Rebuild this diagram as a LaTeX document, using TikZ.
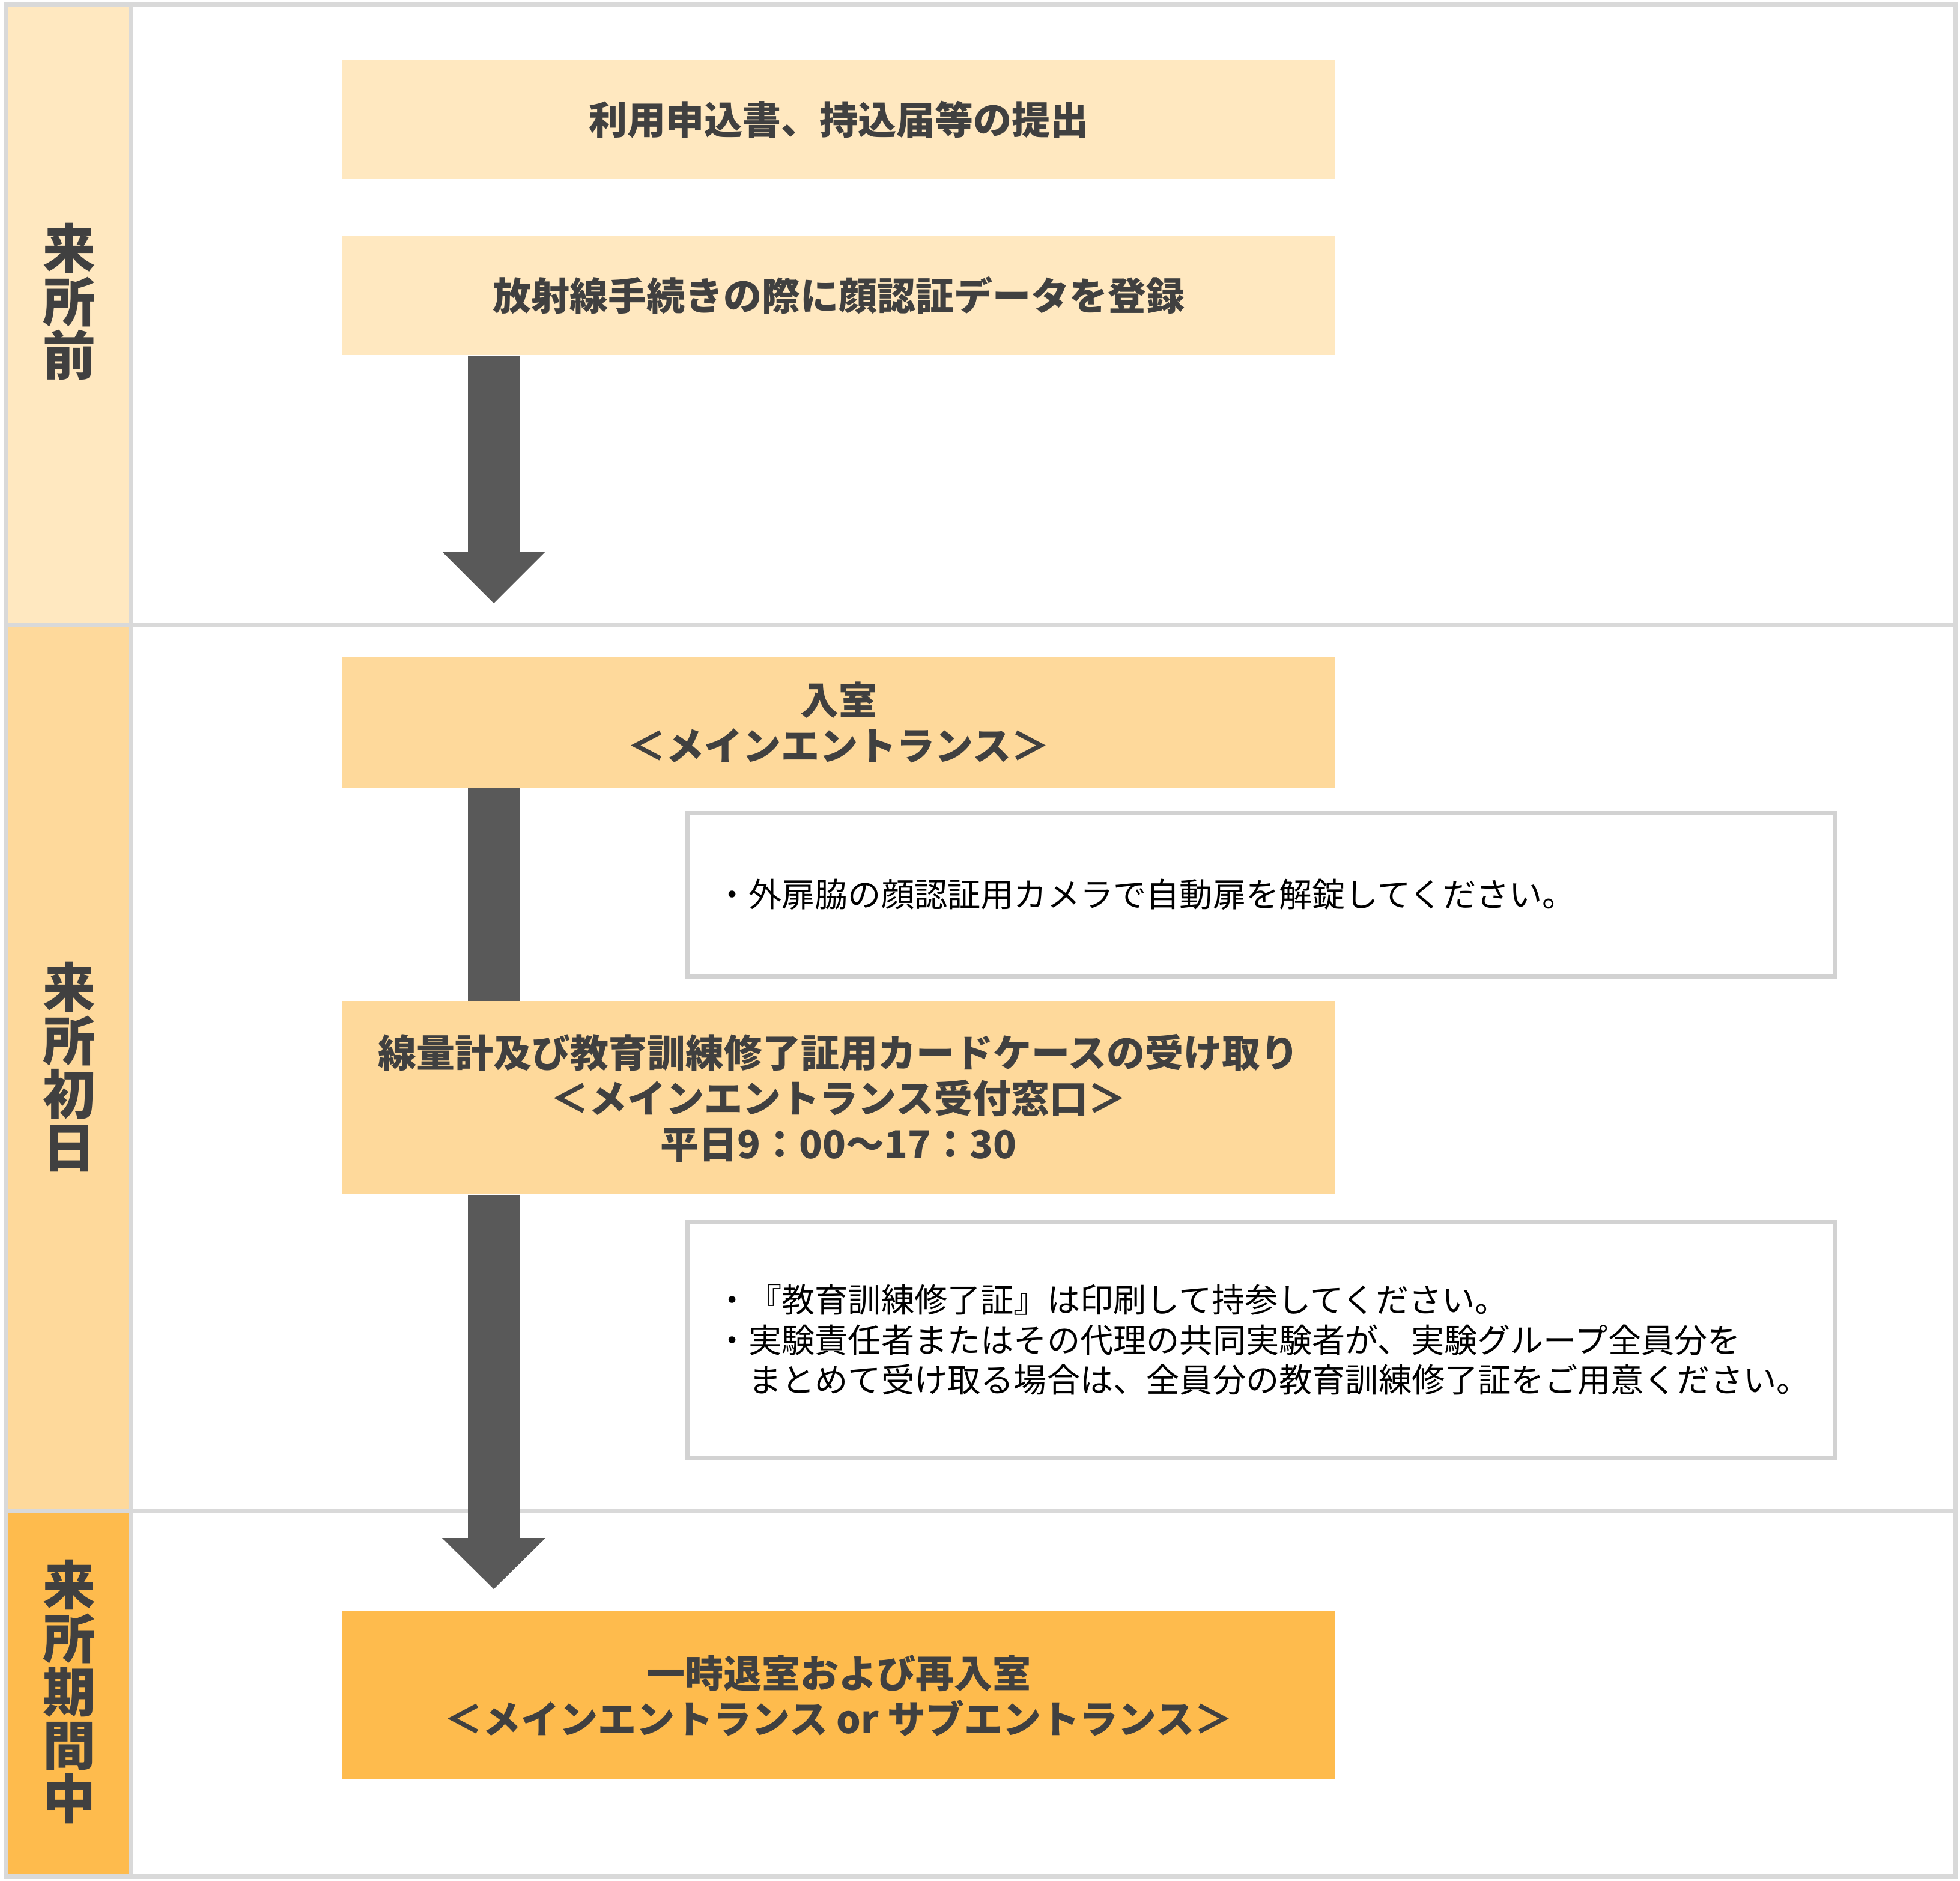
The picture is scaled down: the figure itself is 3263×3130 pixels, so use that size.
\documentclass[tikz,border=0pt]{standalone}
\usepackage{fontspec}
\setmainfont{Noto Sans CJK JP}
\usetikzlibrary{calc}
\definecolor{cpre}{HTML}{FFE8C0}
\definecolor{cday}{HTML}{FED99B}
\definecolor{cstay}{HTML}{FEBB4D}
\definecolor{gridc}{HTML}{D9D9D9}
\definecolor{notec}{HTML}{D2D2D2}
\definecolor{arrc}{HTML}{595959}
\definecolor{txtc}{HTML}{404040}
\begin{document}
\begin{tikzpicture}[x=0.25pt,y=-0.25pt,
  gridline/.style={draw=gridc,line width=1.75pt},
  stepbox/.style={inner sep=0pt,minimum width=413pt,align=center,text=txtc,
    font=\fontsize{16}{19}\selectfont\bfseries},
  notebox/.style={draw=notec,fill=white,line width=1.75pt,minimum width=477.75pt,
    inner xsep=11.6pt,inner ysep=0pt,text width=454.5pt,align=left,
    font=\fontsize{13.8}{16.7}\selectfont,text=black},
  lab/.style={align=center,text=txtc,inner sep=0pt,
    font=\fontsize{22}{22.3}\selectfont\bfseries},
  shaft/.style={draw=arrc,line width=21.5pt},
  headfill/.style={fill=arrc}]
\useasboundingbox (0,0) rectangle (3263,3130);
\fill[white] (0,0) rectangle (3263,3130);
% left column fills
\fill[cpre] (9,7) rectangle (218.5,1040);
\fill[cday] (9,1040) rectangle (218.5,2514);
\fill[cstay] (9,2514) rectangle (218.5,3123);
% grid lines
\draw[gridline] (9,7) rectangle (3255,3123);
\draw[gridline] (218.5,7) -- (218.5,3123);
\draw[gridline] (9,1040) -- (3255,1040);
\draw[gridline] (9,2514) -- (3255,2514);
% labels
\node[lab] (lab1) at (115,502) {来\\所\\前};
\node[lab] (lab2) at (115,1776) {来\\所\\初\\日};
\node[lab] (lab3) at (115,2816) {来\\所\\期\\間\\中};
% step boxes
\node[stepbox,fill=cpre,minimum height=49.5pt] (b1) at (1396,199) {利用申込書、持込届等の提出};
\node[stepbox,fill=cpre,minimum height=49.75pt] (b2) at (1396,491.5) {放射線手続きの際に顔認証データを登録};
\node[stepbox,fill=cday,minimum height=54.5pt] (b3) at (1396,1202) {入室\\＜メインエントランス＞};
\node[stepbox,fill=cday,minimum height=80.25pt] (b4) at (1396,1827.5) {線量計及び教育訓練修了証用カードケースの受け取り\\＜メインエントランス受付窓口＞\\平日9：00〜17：30};
\node[stepbox,fill=cstay,minimum height=70pt] (b5) at (1396,2822) {一時退室および再入室\\＜メインエントランス or サブエントランス＞};
% arrows
\coordinate (ax) at (822,0);
\coordinate (tip1) at (822,1004);
\coordinate (tip3) at (822,2645);
\draw[shaft] (b2.south -| ax) -- ($(tip1)+(0,-86)$);
\fill[headfill] ($(tip1)+(-86,-86)$) -- ($(tip1)+(86,-86)$) -- (tip1) -- cycle;
\draw[shaft] (b3.south -| ax) -- (b4.north -| ax);
\draw[shaft] (b4.south -| ax) -- ($(tip3)+(0,-85)$);
\fill[headfill] ($(tip3)+(-86,-85)$) -- ($(tip3)+(86,-85)$) -- (tip3) -- cycle;
% notes
\node[notebox,minimum height=68pt] (n1) at (2100,1489) {・外扉脇の顔認証用カメラで自動扉を解錠してください。};
\node[notebox,minimum height=98pt] (n2) at (2100,2230) {・『教育訓練修了証』は印刷して持参してください。\\・実験責任者またはその代理の共同実験者が、実験グループ全員分を\\　まとめて受け取る場合は、全員分の教育訓練修了証をご用意ください。};
\end{tikzpicture}
\end{document}
